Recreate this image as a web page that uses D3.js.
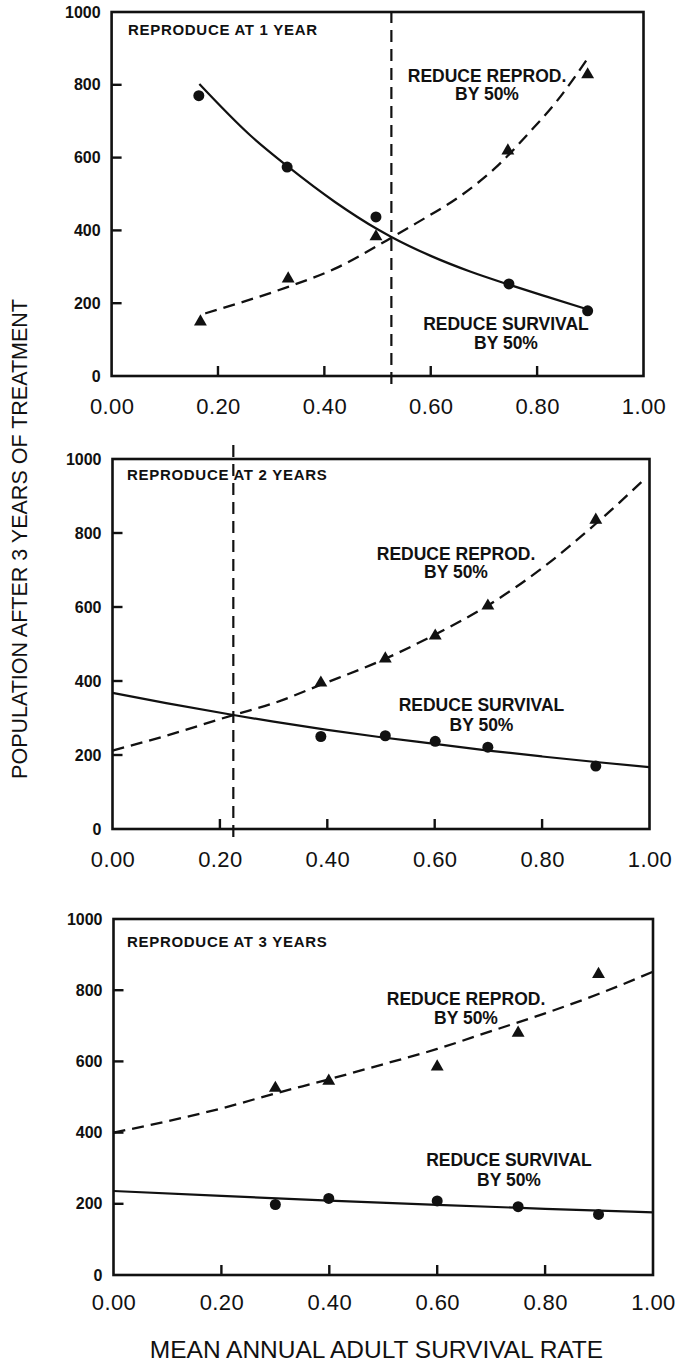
<!DOCTYPE html>
<html><head><meta charset="utf-8">
<script src="https://cdn.jsdelivr.net/npm/d3@7"></script>
<style>body{margin:0;background:#fff} svg{display:block}</style>
</head><body><svg id="c" width="687" height="1372"></svg>
<script>
// ---------- DATA ----------
const xTicks = [0, 0.2, 0.4, 0.6, 0.8, 1.0];
const xTickLabels = ["0.00", "0.20", "0.40", "0.60", "0.80", "1.00"];
const yTicks = [0, 200, 400, 600, 800, 1000];
const yTickLabels = ["0", "200", "400", "600", "800", "1000"];
const panelTitles = ["REPRODUCE AT 1 YEAR", "REPRODUCE AT 2 YEARS", "REPRODUCE AT 3 YEARS"];
const seriesLabels = { repro: ["REDUCE REPROD.", "BY 50%"], surv: ["REDUCE SURVIVAL", "BY 50%"] };
const xAxisTitle = "MEAN ANNUAL ADULT SURVIVAL RATE";
const yAxisTitle = "POPULATION AFTER 3 YEARS OF TREATMENT";

// Panel 1: reproduce at 1 year
const p1SurvivalPoints = [[0.164, 770], [0.330, 574], [0.497, 437], [0.747, 253], [0.895, 179]];
const p1ReproPoints = [[0.167, 149], [0.332, 267], [0.497, 383], [0.745, 619], [0.895, 828]];
const p1SurvivalCurve = [[0.165, 802], [0.26, 662], [0.33, 577], [0.42, 478], [0.50, 403], [0.526, 382], [0.60, 330], [0.674, 287], [0.747, 251], [0.818, 218], [0.893, 184]];
const p1ReproCurve = [[0.176, 172], [0.25, 205], [0.332, 245], [0.42, 295], [0.505, 362], [0.526, 380], [0.573, 420], [0.661, 500], [0.724, 575], [0.786, 670], [0.837, 755], [0.893, 868]];
const p1Crossover = 0.526;

// Panel 2: reproduce at 2 years
const p2SurvivalPoints = [[0.388, 250], [0.508, 252], [0.601, 237], [0.699, 221], [0.90, 170]];
const p2ReproPoints = [[0.388, 395], [0.508, 460], [0.601, 522], [0.699, 603], [0.90, 835]];
const p2SurvivalCurve = [[0, 368], [0.1, 340], [0.225, 308], [0.3, 290], [0.4, 268], [0.5, 248], [0.6, 230], [0.7, 212], [0.8, 196], [0.9, 181], [1.0, 167]];
const p2ReproCurve = [[0, 212], [0.1, 252], [0.225, 308], [0.3, 340], [0.388, 390], [0.5, 455], [0.6, 525], [0.7, 605], [0.8, 705], [0.9, 825], [0.989, 943]];
const p2Crossover = 0.225;

// Panel 3: reproduce at 3 years
const p3SurvivalPoints = [[0.30, 198], [0.399, 215], [0.60, 208], [0.75, 192], [0.899, 170]];
const p3ReproPoints = [[0.30, 525], [0.399, 545], [0.60, 585], [0.75, 680], [0.899, 845]];
const p3SurvivalCurve = [[0, 236], [0.2, 222], [0.4, 209], [0.6, 197], [0.8, 186], [1.0, 176]];
const p3ReproCurve = [[0, 400], [0.1, 432], [0.2, 468], [0.3, 510], [0.4, 550], [0.5, 592], [0.6, 635], [0.7, 685], [0.8, 735], [0.9, 790], [1.0, 852]];

// ---------- LAYOUT ----------
const FONT = "'Liberation Sans', Arial, Helvetica, sans-serif";
const panels = [
  { x0: 111.6, x1: 643.5, yTop: 12, yBot: 376, tickLabelY: 414,
    surv: p1SurvivalPoints, repro: p1ReproPoints, survCurve: p1SurvivalCurve, reproCurve: p1ReproCurve,
    cross: p1Crossover, crossY: [11, 388], title: panelTitles[0], titleXY: [128, 35],
    reproLab: [487, 82, 100], survLab: [506, 329.5, 348.5] },
  { x0: 112.5, x1: 649.5, yTop: 459, yBot: 829, tickLabelY: 867,
    surv: p2SurvivalPoints, repro: p2ReproPoints, survCurve: p2SurvivalCurve, reproCurve: p2ReproCurve,
    cross: p2Crossover, crossY: [445, 838], title: panelTitles[1], titleXY: [127, 480],
    reproLab: [456, 559.5, 578], survLab: [481.5, 711, 731] },
  { x0: 113.5, x1: 653, yTop: 919, yBot: 1275, tickLabelY: 1310,
    surv: p3SurvivalPoints, repro: p3ReproPoints, survCurve: p3SurvivalCurve, reproCurve: p3ReproCurve,
    cross: null, crossY: null, title: panelTitles[2], titleXY: [127, 947],
    reproLab: [466, 1004.5, 1023.5], survLab: [509, 1166, 1186] }
];

const svg = d3.select("#c");
svg.append("rect").attr("width", 687).attr("height", 1372).attr("fill", "#fff");

panels.forEach(p => {
  const x = d3.scaleLinear().domain([0, 1]).range([p.x0, p.x1]);
  const y = d3.scaleLinear().domain([0, 1000]).range([p.yBot, p.yTop]);
  const g = svg.append("g");

  // frame
  g.append("rect").attr("x", p.x0).attr("y", p.yTop)
    .attr("width", p.x1 - p.x0).attr("height", p.yBot - p.yTop)
    .attr("fill", "none").attr("stroke", "#111").attr("stroke-width", 2.6);

  // bottom axis: inward ticks + labels
  const xAx = d3.axisBottom(x).tickValues(xTicks).tickSize(0).tickPadding(0)
    .tickFormat((d, i) => xTickLabels[i]);
  const xg = g.append("g").attr("transform", `translate(0,${p.yBot})`).call(xAx);
  xg.select(".domain").remove();
  xg.selectAll("text").attr("dy", null).attr("y", p.tickLabelY - p.yBot)
    .attr("font-family", FONT).attr("font-size", 22).attr("fill", "#111").attr("letter-spacing", 0.4);
  g.selectAll(".xt").data(xTicks.filter(d => d > 0 && d < 1)).join("line")
    .attr("x1", d => x(d)).attr("x2", d => x(d)).attr("y1", p.yBot).attr("y2", p.yBot - 10)
    .attr("stroke", "#111").attr("stroke-width", 2.4);

  // left axis: inward ticks + labels
  const yAx = d3.axisLeft(y).tickValues(yTicks).tickSize(0).tickPadding(11)
    .tickFormat((d, i) => yTickLabels[i]);
  const yg = g.append("g").attr("transform", `translate(${p.x0},0)`).call(yAx);
  yg.select(".domain").remove();
  yg.selectAll("text").attr("font-family", FONT).attr("font-size", 16).attr("font-weight", "bold").attr("fill", "#111");
  g.selectAll(".yt").data(yTicks.filter(d => d > 0 && d < 1000)).join("line")
    .attr("x1", p.x0).attr("x2", p.x0 + 10).attr("y1", d => y(d)).attr("y2", d => y(d))
    .attr("stroke", "#111").attr("stroke-width", 2.4);

  const line = d3.line().x(d => x(d[0])).y(d => y(d[1])).curve(d3.curveMonotoneX);

  // curves
  g.append("path").datum(p.survCurve).attr("d", line).attr("fill", "none")
    .attr("stroke", "#111").attr("stroke-width", 2.2);
  g.append("path").datum(p.reproCurve).attr("d", line).attr("fill", "none")
    .attr("stroke", "#111").attr("stroke-width", 2.3).attr("stroke-dasharray", "12,7");

  // vertical crossover line
  if (p.cross !== null) {
    g.append("line").attr("x1", x(p.cross)).attr("x2", x(p.cross))
      .attr("y1", p.crossY[0]).attr("y2", p.crossY[1])
      .attr("stroke", "#111").attr("stroke-width", 2.2).attr("stroke-dasharray", "12,7");
  }

  // markers
  g.selectAll(".circ").data(p.surv).join("circle")
    .attr("cx", d => x(d[0])).attr("cy", d => y(d[1])).attr("r", 5.5).attr("fill", "#111");
  const tri = d3.symbol().type(d3.symbolTriangle).size(72);
  g.selectAll(".tri").data(p.repro).join("path")
    .attr("d", tri).attr("transform", d => `translate(${x(d[0])},${y(d[1])})`).attr("fill", "#111");

  // texts
  g.append("text").attr("x", p.titleXY[0]).attr("y", p.titleXY[1]).text(p.title)
    .attr("font-family", FONT).attr("font-size", 15).attr("font-weight", "bold")
    .attr("letter-spacing", 0.7).attr("fill", "#111");
  [[seriesLabels.repro, p.reproLab], [seriesLabels.surv, p.survLab]].forEach(([lab, pos]) => {
    lab.forEach((t, i) => {
      g.append("text").attr("x", pos[0]).attr("y", pos[1 + i]).text(t)
        .attr("text-anchor", "middle").attr("font-family", FONT).attr("font-size", 17.5)
        .attr("font-weight", "bold").attr("fill", "#111");
    });
  });
});

// axis titles
svg.append("text").attr("x", 376.5).attr("y", 1358).attr("text-anchor", "middle")
  .attr("font-family", FONT).attr("font-size", 24.5).attr("fill", "#111").text(xAxisTitle);
svg.append("text").attr("transform", "translate(27,539) rotate(-90)").attr("text-anchor", "middle")
  .attr("font-family", FONT).attr("font-size", 21.5).attr("fill", "#111").text(yAxisTitle);
</script></body></html>
